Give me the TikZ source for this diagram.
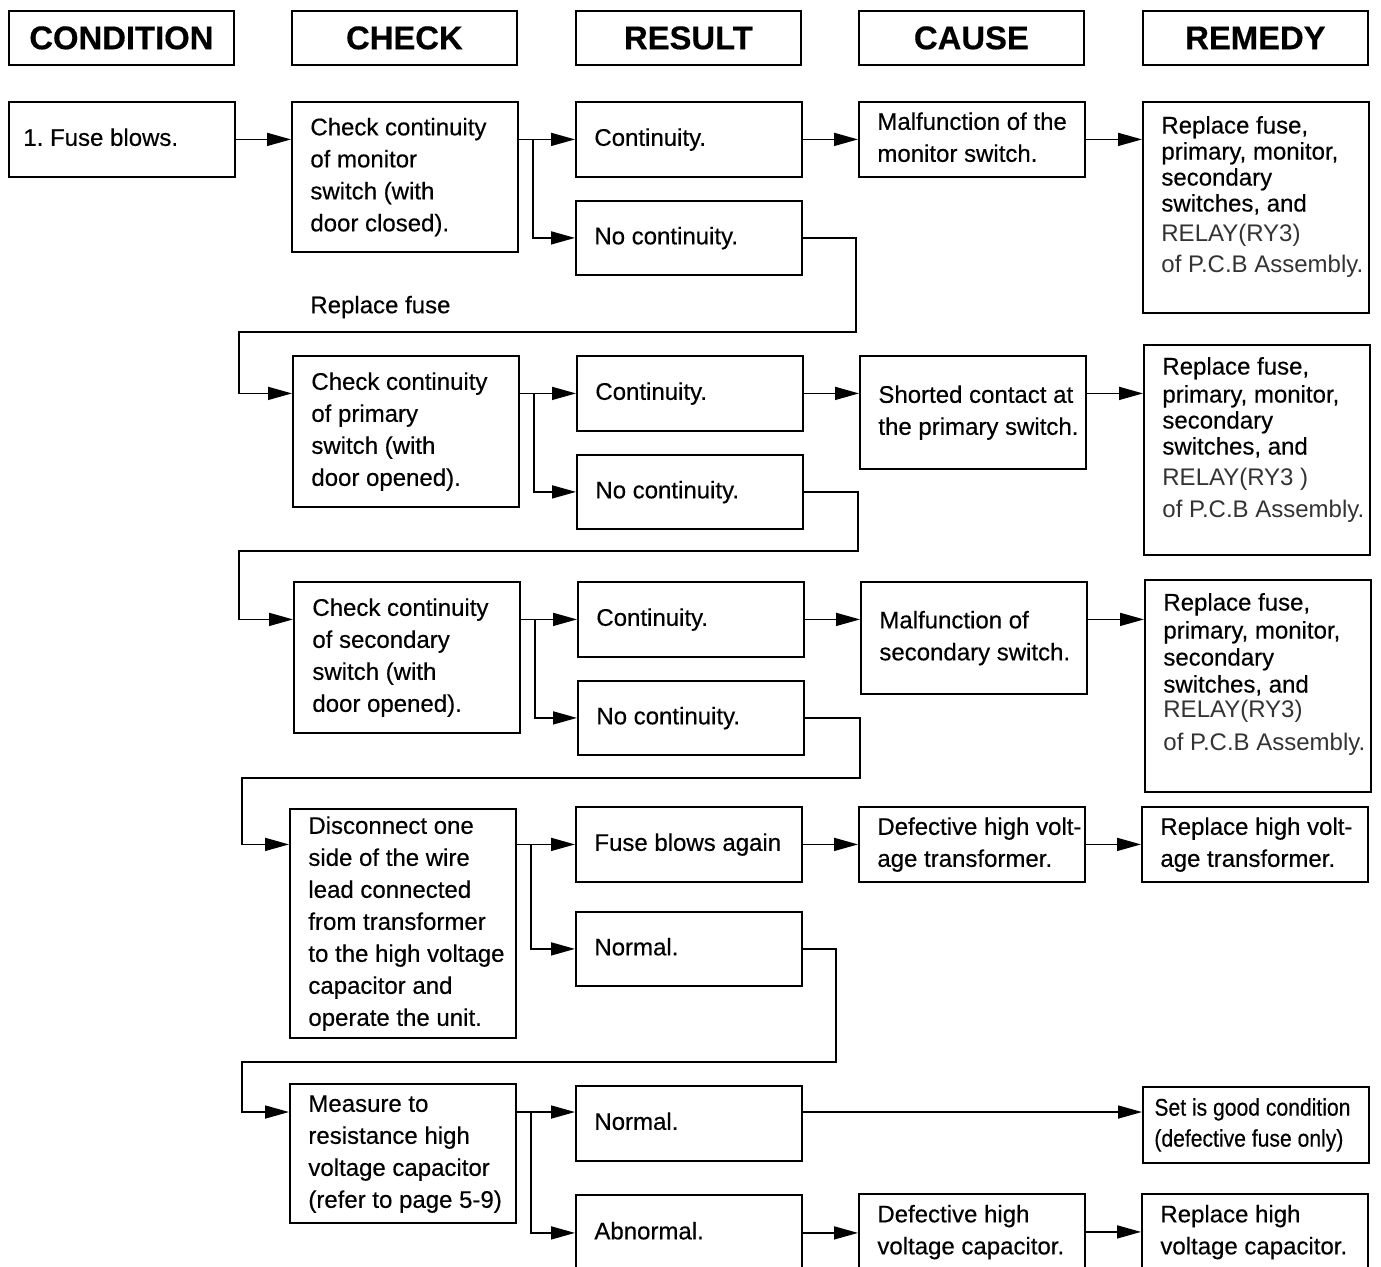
\documentclass[tikz,border=0pt]{standalone}
\usepackage{fontspec}
\setmainfont[FakeBold=0.4]{Liberation Sans}
\newfontfamily\narrowfont[FakeStretch=0.88,FakeBold=0.4]{Liberation Sans}
\newfontfamily\thinfont{Liberation Sans}
\usepackage{xcolor}
\usetikzlibrary{arrows.meta,calc}
\frenchspacing
\newcommand{\boxlines}[2][94.5pt]{\makebox[#1][l]{\begin{tabular}{@{}l@{}}#2\end{tabular}}}
\newcommand{\toplines}[3]{\parbox[c][#1][t]{94.5pt}{\vspace*{#2}\begin{tabular}[t]{@{}l@{}}#3\end{tabular}}}
\newcommand{\relay}[1]{{\thinfont\color{black!80}#1}}

\begin{document}
\begin{tikzpicture}[x=.5pt,y=-.5pt,
    box/.style={draw,line width=.9pt,anchor=north west,inner xsep=9.25pt,inner ysep=0pt,minimum width=113pt,font=\fontsize{12pt}{16pt}\selectfont},
    head/.style={draw,line width=.9pt,anchor=north west,minimum width=112.5pt,minimum height=27pt,inner sep=0pt,font=\fontsize{16.4pt}{18pt}\selectfont\bfseries},
    rembox/.style={box,font=\fontsize{12pt}{13pt}\selectfont},
    arr/.style={line width=.8pt,-{Triangle[length=12pt,width=6.5pt]}}]
    \useasboundingbox (0,0) rectangle (1381,1266);
    \clip (0,0) rectangle (1381,1266);
    \foreach \x/\t/\n in {8/CONDITION/hcond,291/CHECK/hchk,575/RESULT/hres,858/CAUSE/hcau,1142/REMEDY/hrem}{
      \node[head] (\n) at (\x,10) {\t};
    }

    \node[box,minimum height=37.5pt,inner xsep=7pt] (fuse) at (8,101) {\boxlines[98.5pt]{1. Fuse blows.}};
    \node[box,minimum height=75pt] (chk1) at (291,101) {\boxlines{Check continuity\\of monitor\\switch (with\\door closed).}};
    \node[box,minimum height=37.5pt] (res1a) at (575,101) {\boxlines{Continuity.}};
    \node[box,minimum height=37pt] (res1b) at (575,200) {\boxlines{No continuity.}};
    \node[box,minimum height=37.5pt] (cau1) at (858,101) {\boxlines{Malfunction of the\\monitor switch.}};
    \node[rembox] (rem1) at (1142,101) {\toplines{105.5pt}{6.7pt}{Replace fuse,\\primary, monitor,\\secondary\\switches, and\\[2pt]\relay{RELAY(RY3)}\\[2.5pt]\relay{of P.C.B Assembly.}}};
    \node[anchor=west,inner sep=0pt,font=\fontsize{12pt}{16pt}\selectfont] (fuselbl) at (310,307) {Replace fuse};

    \node[box,minimum height=75.5pt] (chk2) at (292,355) {\boxlines{Check continuity\\of primary\\switch (with\\door opened).}};
    \node[box,minimum height=37.5pt] (res2a) at (576,355) {\boxlines{Continuity.}};
    \node[box,minimum height=37pt] (res2b) at (576,454) {\boxlines{No continuity.}};
    \node[box,minimum height=56.5pt] (cau2) at (859,355) {\boxlines{Shorted contact at\\the primary switch.}};
    \node[rembox] (rem2) at (1143,344) {\toplines{105pt}{5.7pt}{Replace fuse,\\[1pt]primary, monitor,\\secondary\\switches, and\\[2.5pt]\relay{RELAY(RY3 )}\\[3pt]\relay{of P.C.B Assembly.}}};

    \node[box,minimum height=75.5pt] (chk3) at (293,581) {\boxlines{Check continuity\\of secondary\\switch (with\\door opened).}};
    \node[box,minimum height=37.5pt] (res3a) at (577,581) {\boxlines{Continuity.}};
    \node[box,minimum height=37pt] (res3b) at (577,680) {\boxlines{No continuity.}};
    \node[box,minimum height=56pt] (cau3) at (860,581) {\boxlines{Malfunction of\\secondary switch.}};
    \node[rembox] (rem3) at (1144,579) {\toplines{106pt}{6.2pt}{Replace fuse,\\[1pt]primary, monitor,\\[.5pt]secondary\\[.5pt]switches, and\\[-.5pt]\relay{RELAY(RY3)}\\[3.5pt]\relay{of P.C.B Assembly.}}};

    \node[box,minimum height=114.5pt] (chk4) at (289,808) {\boxlines{Disconnect one\\side of the wire\\lead connected\\from transformer\\to the high voltage\\capacitor and\\operate the unit.}};
    \node[box,minimum height=37.5pt] (res4a) at (575,806) {\boxlines{Fuse blows again}};
    \node[box,minimum height=37pt] (res4b) at (575,911) {\boxlines{Normal.}};
    \node[box,minimum height=37.5pt] (cau4) at (858,806) {\boxlines{Defective high volt-\\age transformer.}};
    \node[box,minimum height=37.5pt] (rem4) at (1141,806) {\boxlines{Replace high volt-\\age transformer.}};

    \node[box,minimum height=69.5pt] (chk5) at (289,1083) {\boxlines{Measure to\\resistance high\\voltage capacitor\\(refer to page 5-9)}};
    \node[box,minimum height=37.5pt] (res5a) at (575,1085) {\boxlines{Normal.}};
    \node[box,minimum height=38pt] (res5b) at (575,1194) {\boxlines{Abnormal.}};
    \node[box,minimum height=38pt] (cau5) at (858,1193) {\boxlines{Defective high\\voltage capacitor.}};
    \node[box,minimum height=38pt] (rem5) at (1141,1193) {\boxlines{Replace high\\voltage capacitor.}};
    \node[box,minimum height=38pt,inner xsep=5.5pt,font=\narrowfont\fontsize{12pt}{15.5pt}\selectfont] (good) at (1142,1086) {\boxlines[101.5pt]{Set is good condition\\(defective fuse only)}};

    \coordinate (ret1a) at (856,332);
    \coordinate (ret1b) at (239,332);
    \coordinate (ret2a) at (858,551);
    \coordinate (ret2b) at (239,551);
    \coordinate (ret3a) at (860,778);
    \coordinate (ret3b) at (242,778);
    \coordinate (ret4a) at (836,1062);
    \coordinate (ret4b) at (242,1062);
    \coordinate (n5) at (0,1112);

    \draw[arr] (fuse) -- (chk1.west |- fuse);
    \draw[arr] (chk1.east |- res1a) -- (res1a);
    \draw[arr] ($(chk1.east |- res1a)+(14,0)$) |- (res1b);
    \draw[arr] (res1a) -- (cau1.west |- res1a);
    \draw[arr] (cau1) -- (rem1.west |- cau1);
    \draw[arr] (res1b.east) -| (ret1a) -- (ret1b) |- (chk2.west |- res2a);

    \draw[arr] (chk2.east |- res2a) -- (res2a);
    \draw[arr] ($(chk2.east |- res2a)+(14,0)$) |- (res2b);
    \draw[arr] (res2a) -- (cau2.west |- res2a);
    \draw[arr] (cau2.east |- res2a) -- (rem2.west |- res2a);
    \draw[arr] (res2b.east) -| (ret2a) -- (ret2b) |- (chk3.west |- res3a);

    \draw[arr] (chk3.east |- res3a) -- (res3a);
    \draw[arr] ($(chk3.east |- res3a)+(14,0)$) |- (res3b);
    \draw[arr] (res3a) -- (cau3.west |- res3a);
    \draw[arr] (cau3.east |- res3a) -- (rem3.west |- res3a);
    \draw[arr] (res3b.east) -| (ret3a) -- (ret3b) |- (chk4.west |- res4a);

    \draw[arr] (chk4.east |- res4a) -- (res4a);
    \draw[arr] ($(chk4.east |- res4a)+(14,0)$) |- (res4b);
    \draw[arr] (res4a) -- (cau4.west |- res4a);
    \draw[arr] (cau4) -- (rem4.west |- cau4);
    \draw[arr] (res4b.east) -| (ret4a) -- (ret4b) |- (chk5.west |- n5);

    \draw[arr] (chk5.east |- n5) -- (res5a.west |- n5);
    \draw[arr] ($(chk5.east |- n5)+(14,0)$) |- (res5b);
    \draw[arr] (res5a.east |- n5) -- (good.west |- n5);
    \draw[arr] (res5b) -- (cau5.west |- res5b);
    \draw[arr] (cau5) -- (rem5.west |- cau5);
  \end{tikzpicture}
\end{document}
